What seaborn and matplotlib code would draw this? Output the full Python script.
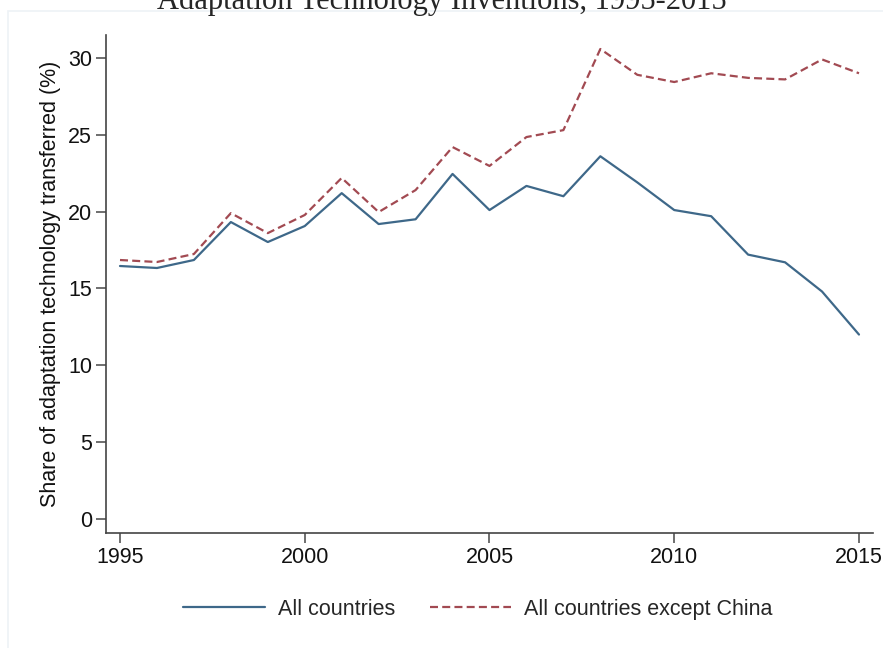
import pandas as pd
import matplotlib
matplotlib.use("Agg")
import matplotlib.pyplot as plt
import seaborn as sns

# Values
years = list(range(1995, 2016))
all_countries = [16.46, 16.33, 16.85, 19.32, 18.02, 19.06, 21.2, 19.19, 19.5, 22.45, 20.1,
                 21.67, 21.0, 23.6, 21.9, 20.1, 19.7, 17.2, 16.7, 14.8, 12.0]
except_china = [16.85, 16.72, 17.24, 19.9, 18.6, 19.78, 22.19, 19.97, 21.4, 24.2, 22.97,
                24.85, 25.3, 30.58, 28.9, 28.43, 29.0, 28.7, 28.6, 29.9, 29.0]
series_names = ["All countries", "All countries except China"]
y_ticks = [0, 5, 10, 15, 20, 25, 30]
x_ticks = [1995, 2000, 2005, 2010, 2015]

df = pd.DataFrame({
    "year": years * 2,
    "share": all_countries + except_china,
    "group": [series_names[0]] * len(years) + [series_names[1]] * len(years),
})

sns.set_style("ticks")
plt.rcParams["font.family"] = ["Liberation Sans", "DejaVu Sans"]

fig = plt.figure(figsize=(8.83, 6.48), dpi=100)
# faint outer frame like the source export
fig.patches.append(plt.Rectangle((8 / 883, -0.01), 1.0, 1 - 11 / 648 + 0.01,
                                 transform=fig.transFigure, fill=False,
                                 edgecolor="#eef2f6", linewidth=1.2))
ax = fig.add_axes([0.12, 0.1775, 0.8687, 0.7685])

palette = {series_names[0]: "#3e6889", series_names[1]: "#a24a52"}
sns.lineplot(data=df, x="year", y="share", hue="group", style="group",
             palette=palette, dashes={series_names[0]: "", series_names[1]: (3.6, 1.9)},
             linewidth=1.6, ax=ax)

ax.set_xlim(1994.62, 2015.38)
ax.set_ylim(-0.91, 31.49)
ax.set_xticks(x_ticks)
ax.set_yticks(y_ticks)
ax.tick_params(axis="both", direction="out", length=7, width=1.2, color="#555555",
               labelsize=15.5, labelcolor="#111111", pad=3, bottom=True, left=True)
for side in ["top", "right"]:
    ax.spines[side].set_visible(False)
for side in ["left", "bottom"]:
    ax.spines[side].set_color("#444444")
    ax.spines[side].set_linewidth(1.2)

ax.set_xlabel("")
ax.set_ylabel("Share of adaptation technology transferred (%)", fontsize=15.5,
              color="#111111", labelpad=5)

handles, labels = ax.get_legend_handles_labels()
ax.legend(handles, labels, loc="upper center", bbox_to_anchor=(0.485, -0.093),
          ncol=2, frameon=False, fontsize=15.5, handlelength=3.8, columnspacing=1.6,
          handletextpad=0.6)

fig.text(0.5, 0.998, "Adaptation Technology Inventions, 1995-2015", ha="center",
         va="center", fontsize=22, family=["Liberation Serif", "DejaVu Serif"])

fig.savefig("out.png", dpi=100)
